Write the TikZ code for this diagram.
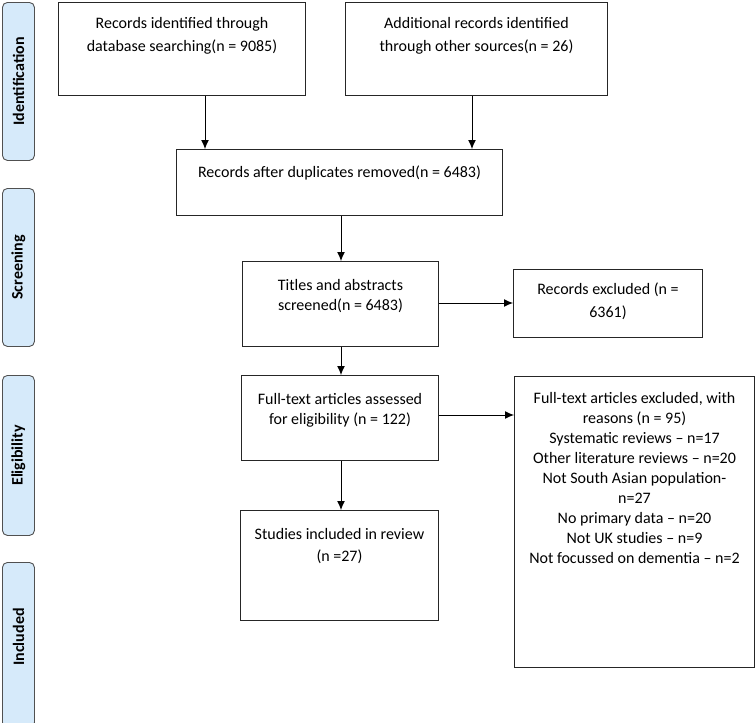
\documentclass[tikz,border=0pt]{standalone}
\usepackage{fontspec}
\setmainfont{Carlito}
\usetikzlibrary{arrows.meta}
\definecolor{phasefill}{RGB}{214,234,250}
\definecolor{phasedraw}{RGB}{80,80,80}
\begin{document}
\begin{tikzpicture}[x=1pt,y=-1pt,
  box/.style={draw=black!85,line width=1pt,inner sep=0,anchor=north west},
  txt/.style={anchor=north,align=center,inner sep=0,font=\fontsize{16}{22}\selectfont},
  phase/.style={draw=phasedraw,fill=phasefill,rounded corners=5pt,line width=0.9pt,inner sep=0,anchor=north west},
  phasetxt/.style={rotate=90,font=\fontsize{16}{18}\selectfont\bfseries},
  arr/.style={-{Latex[length=9pt,width=8pt]},line width=1pt}]
\useasboundingbox (0,0) rectangle (756,723);
% phase bars
\node[phase,minimum width=32pt,minimum height=158pt] (p1) at (2,2) {};
\node[phasetxt] (p1t) at (p1.center) {Identification};
\node[phase,minimum width=32pt,minimum height=158pt] (p2) at (2,188) {};
\node[phasetxt] (p2t) at (p2.center) {Screening};
\node[phase,minimum width=32pt,minimum height=160pt] (p3) at (2,375) {};
\node[phasetxt] (p3t) at (p3.center) {Eligibility};
\node[phase,minimum width=32pt,minimum height=165pt] (p4) at (2,562) {};
\node[phasetxt] (p4t) at ([yshift=8pt]p4.center) {Included};
% boxes
\node[box,minimum width=247pt,minimum height=93pt] (b1) at (58,2) {};
\node[txt,font=\fontsize{16}{23}\selectfont] (b1t) at ([yshift=-15pt]b1.north) {Records identified through\\database searching(n = 9085)};
\node[box,minimum width=262pt,minimum height=93pt] (b2) at (345,2) {};
\node[txt,font=\fontsize{16}{23}\selectfont] (b2t) at ([yshift=-15pt]b2.north) {Additional records identified\\through other sources(n = 26)};
\node[box,minimum width=326pt,minimum height=66pt] (b3) at (176,149) {};
\node[txt] (b3t) at ([yshift=-17pt]b3.north) {Records after duplicates removed(n = 6483)};
\node[box,minimum width=196pt,minimum height=85pt] (b4) at (242,261) {};
\node[txt,font=\fontsize{16}{20}\selectfont] (b4t) at ([yshift=-18pt]b4.north) {Titles and abstracts\\screened(n = 6483)};
\node[box,minimum width=189pt,minimum height=68pt] (b5) at (513,269) {};
\node[txt,font=\fontsize{16}{23}\selectfont] (b5t) at ([yshift=-14pt]b5.north) {Records excluded (n =\\6361)};
\node[box,minimum width=197pt,minimum height=85pt] (b6) at (241,375) {};
\node[txt,font=\fontsize{16}{20}\selectfont] (b6t) at ([yshift=-18pt]b6.north) {Full-text articles assessed\\for eligibility (n = 122)};
\node[box,minimum width=240pt,minimum height=291pt] (b7) at (514,376) {};
\node[txt,font=\fontsize{16}{20}\selectfont] (b7t) at ([yshift=-16pt]b7.north) {Full-text articles excluded, with\\reasons (n = 95)\\Systematic reviews – n=17\\Other literature reviews – n=20\\Not South Asian population-\\n=27\\No primary data – n=20\\Not UK studies – n=9\\Not focussed on dementia – n=2};
\node[box,minimum width=198pt,minimum height=110pt] (b8) at (240,510) {};
\node[txt] (b8t) at ([yshift=-18pt]b8.north) {Studies included in review\\(n =27)};
% connectors
\draw[arr] (b1.south -| 205,0) -- (b3.north -| 205,0);
\draw[arr] (b2.south -| 472,0) -- (b3.north -| 472,0);
\draw[arr] (b3.south -| 341,0) -- (b4.north -| 341,0);
\draw[arr] (b4.east |- 0,303) -- (b5.west |- 0,303);
\draw[arr] (b4.south -| 341,0) -- (b6.north -| 341,0);
\draw[arr] (b6.east |- 0,415) -- (b7.west |- 0,415);
\draw[arr] (b6.south -| 341,0) -- (b8.north -| 341,0);
\end{tikzpicture}
\end{document}
